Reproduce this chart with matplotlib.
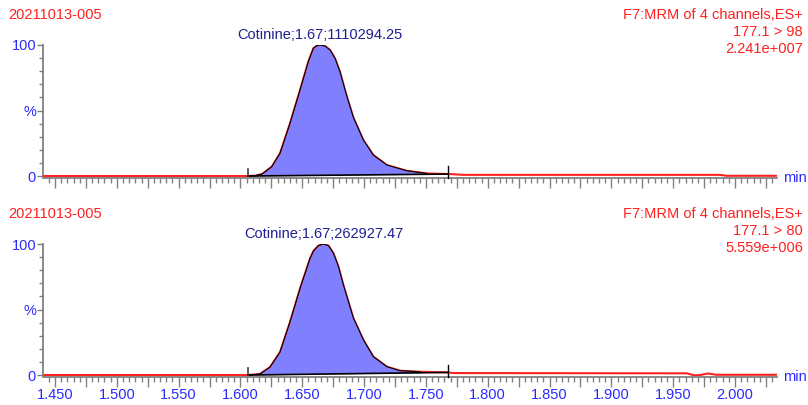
import matplotlib
matplotlib.use("Agg")
import matplotlib.pyplot as plt
from matplotlib.ticker import MultipleLocator, FuncFormatter

plt.rcParams["font.family"] = ["Liberation Sans", "DejaVu Sans"]

# sample / channel info
sample_name = "20211013-005"
func_text = "F7:MRM of 4 channels,ES+"
transitions = ["177.1 > 98", "177.1 > 80"]
max_counts = ["2.241e+007", "5.559e+006"]
peak_labels = ["Cotinine;1.67;1110294.25", "Cotinine;1.67;262927.47"]

# integration window (start, end) and baseline heights at each end
peak_start = 1.606
peak_end = 1.768
base_top = [0.0, 1.5]
base_bot = [0.0, 2.0]

# chromatogram traces (time in min, relative intensity %)
t_top = [1.440, 1.606, 1.612, 1.6175, 1.6253, 1.632, 1.6401, 1.6482, 1.6549, 1.659,
         1.6617, 1.6644, 1.6684, 1.6725, 1.6765, 1.6805, 1.6860, 1.6913, 1.6994,
         1.7075, 1.7184, 1.7345, 1.7507, 1.7682, 1.772, 1.780, 1.988, 1.993, 2.034]
y_top = [0.0, 0.0, 0.3, 1.5, 7.1, 17.3, 40.2, 65.6, 87.3, 97.5,
         99.4, 100.0, 99.2, 96.2, 89.8, 79.6, 61.0, 44.8, 27.5,
         16.0, 8.4, 4.0, 2.0, 1.5, 1.4, 0.9, 0.9, 0.2, 0.2]

t_bot = [1.440, 1.606, 1.6158, 1.6239, 1.632, 1.6401, 1.6482, 1.6563, 1.659, 1.663,
         1.6671, 1.6712, 1.6752, 1.6792, 1.6832, 1.6913, 1.6994, 1.7075, 1.7184,
         1.7290, 1.7452, 1.7682, 1.772, 1.961, 1.967, 1.972, 1.978, 1.985, 2.034]
y_bot = [0.0, 0.0, 0.8, 6.0, 17.5, 40.5, 66.0, 89.0, 94.5, 98.7,
         100.0, 98.7, 93.0, 83.0, 69.0, 43.6, 26.9, 14.0, 6.4,
         3.3, 2.5, 2.0, 1.5, 1.3, -0.2, 0.0, 1.2, 0.2, 0.2]

red = "#ff2020"
blue = "#2a2aff"
navy = "#202090"
fill_c = "#8080ff"
grey = "#808080"

fig = plt.figure(figsize=(8.08, 4.05), dpi=100)
ax1 = fig.add_axes([43 / 808, 1 - 178 / 405, (777 - 43) / 808, 133 / 405])
ax2 = fig.add_axes([43 / 808, 1 - 377 / 405, (777 - 43) / 808, 133 / 405])


def draw_panel(ax, t, y, base, label, show_xlabels):
    # red raw trace underneath
    ax.plot(t, y, color=red, lw=1.5, zorder=2)
    # integrated peak region
    pt = [v for v in t if peak_start <= v <= peak_end]
    py = [y[t.index(v)] for v in pt]
    bl = [base[0] + (v - peak_start) / (peak_end - peak_start) * (base[1] - base[0]) for v in pt]
    ax.fill_between(pt, bl, py, color=fill_c, lw=0, zorder=3)
    ax.plot(pt, py, color="black", lw=0.8, zorder=4)
    ax.plot([peak_start, peak_end], base, color="black", lw=1.2, zorder=4)
    # start / end markers
    ax.plot([peak_start, peak_start], [0, 5], color="#404040", lw=1.2, zorder=4)
    ax.plot([peak_end, peak_end], [-1.5, 7.6], color="black", lw=1.0, zorder=4, clip_on=False)

    apex = y.index(max(y))
    ax.annotate(label, (t[apex], y[apex]), xytext=(0, 2), textcoords="offset points",
                ha="center", va="bottom", color=navy, fontsize=10.5, annotation_clip=False)

    ax.set_xlim(1.4403, 2.034)
    ax.set_ylim(-1.5, 100)
    for s in ["top", "right"]:
        ax.spines[s].set_visible(False)
    for s in ["left", "bottom"]:
        ax.spines[s].set_color(grey)
        ax.spines[s].set_linewidth(1.3)
    ax.spines["left"].set_bounds(0, 100)

    ax.set_yticks([0, 50, 100])
    ax.set_yticklabels(["0", "%", "100"])
    ax.yaxis.set_minor_locator(MultipleLocator(10))
    ax.tick_params(axis="y", which="major", length=4, width=1, color=grey,
                   labelcolor=blue, labelsize=10.5, pad=1)
    ax.tick_params(axis="y", which="minor", length=3, width=1, color=grey)

    ax.xaxis.set_major_locator(MultipleLocator(0.025))
    ax.xaxis.set_minor_locator(MultipleLocator(0.005))
    if show_xlabels:
        ax.xaxis.set_major_formatter(FuncFormatter(
            lambda v, p: f"{v:.3f}" if round(v / 0.025) % 2 == 0 else ""))
    else:
        ax.xaxis.set_major_formatter(FuncFormatter(lambda v, p: ""))
    ax.tick_params(axis="x", which="major", length=7, width=1, color=grey,
                   labelcolor=blue, labelsize=10.5, pad=1)
    ax.tick_params(axis="x", which="minor", length=3.5, width=1, color=grey)

    ax.text(1.008, 0.0, "min", transform=ax.transAxes, color=blue, fontsize=10.5,
            ha="left", va="center")


draw_panel(ax1, t_top, y_top, base_top, peak_labels[0], False)
draw_panel(ax2, t_bot, y_bot, base_bot, peak_labels[1], True)

# header text for each channel
for i, y0 in enumerate([15, 214]):
    fig.text(8 / 808, 1 - y0 / 405, sample_name, color=red, fontsize=10.5, va="center", ha="left")
    fig.text(803 / 808, 1 - y0 / 405, func_text, color=red, fontsize=10.5, va="center", ha="right")
    fig.text(803 / 808, 1 - (y0 + 17) / 405, transitions[i], color=red, fontsize=10.5,
             va="center", ha="right")
    fig.text(803 / 808, 1 - (y0 + 34) / 405, max_counts[i], color=red, fontsize=10.5,
             va="center", ha="right")

fig.savefig("out.png", dpi=100)
